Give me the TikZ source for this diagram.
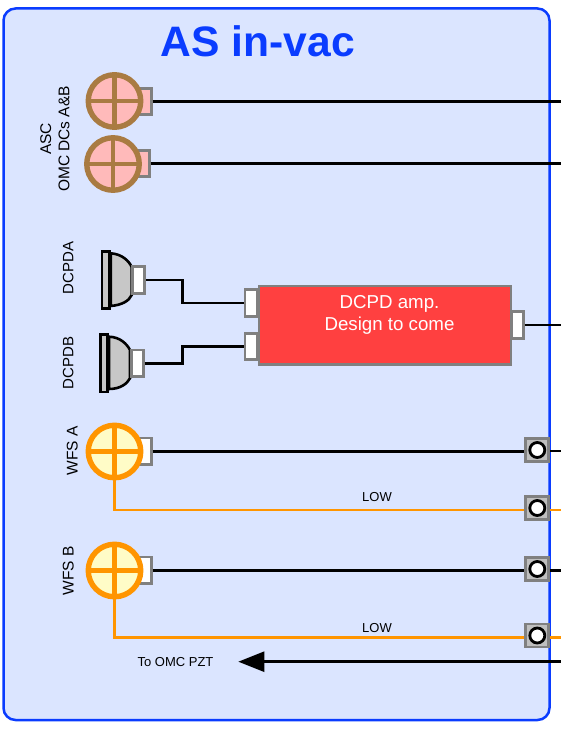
\documentclass[tikz,border=0pt]{standalone}
\usepackage{fontspec}
\setmainfont{Liberation Sans}
\usetikzlibrary{arrows.meta}
\definecolor{panelfill}{HTML}{DBE5FF}
\definecolor{panelblue}{HTML}{0A3CFF}
\definecolor{tabgray}{HTML}{808080}
\definecolor{wfsorange}{HTML}{FF9500}
\definecolor{ascbrown}{HTML}{A97B42}
\tikzset{
	wire/.style={draw=black,line width=2.6pt},
	lowwire/.style={draw=wfsorange,line width=2.6pt},
	tab/.style={draw=tabgray,line width=2.8pt,fill=white,inner sep=0pt,minimum width=#1,minimum height=26.5pt},
	tab/.default=12pt,
	port/.style={draw=tabgray,line width=2.8pt,fill=black!25,inner sep=0pt,minimum size=23pt},
	porthole/.style={circle,draw=black,line width=2.8pt,fill=white,inner sep=0pt,minimum size=15pt},
	asc/.style={circle,draw=ascbrown,line width=5.4pt,fill=red!27,inner sep=0pt,minimum size=52.5pt},
	wfs/.style={circle,draw=wfsorange,line width=5.4pt,fill=yellow!22,inner sep=0pt,minimum size=52.5pt},
	dcbase/.style={draw=black,line width=2.8pt,fill=black!22,inner sep=0pt,minimum width=7.5pt,minimum height=57.5pt},
	dome/.style={draw=black,line width=2.6pt,fill=black!22},
	sidelabel/.style={rotate=90,align=center,inner sep=0pt,font=\fontsize{15.5}{18.3}\selectfont},
	smalllabel/.style={inner sep=0pt,font=\fontsize{13}{15}\selectfont},
}
\begin{document}
\begin{tikzpicture}[x=1pt,y=-1pt]
	\useasboundingbox (0,0) rectangle (561,749);
	\draw[draw=panelblue,fill=panelfill,line width=2.5pt,rounded corners=12pt] (3.5,8.5) rectangle (549.5,720);
	\node(title) at (258,41) [inner sep=0pt,text=panelblue,font=\fontsize{42.6}{46}\selectfont\bfseries] {AS in-vac};

	% ASC diodes
	\node(ascAtab)[tab=21.5pt,fill=red!27] at (140.5,101.5) {};
	\node(ascBtab)[tab=21.5pt,fill=red!27] at (138.5,163.5) {};
	\node(ascA)[asc] at (114.5,101) {};
	\node(ascB)[asc] at (113,164) {};
	\draw[draw=ascbrown,line width=4.5pt] (ascA.north)--(ascA.south);
	\draw[draw=ascbrown,line width=4.5pt] (ascA.west)--(ascA.east);
	\draw[draw=ascbrown,line width=4.5pt] (ascB.north)--(ascB.south);
	\draw[draw=ascbrown,line width=4.5pt] (ascB.west)--(ascB.east);
	\node(asclabel)[sidelabel] at (55,139) {ASC\\OMC DCs A\&B};
	\coordinate(ascAout) at (561,101.5);
	\coordinate(ascBout) at (561,163.5);
	\draw[wire] (ascAtab.east)--(ascAout);
	\draw[wire] (ascBtab.east)--(ascBout);

	% DCPD diodes
	\draw[dome] (110.7,253.3) .. controls (122,254) and (129,261) .. (131.7,267) -- (131.7,295) .. controls (129,301) and (122,305) .. (110.7,306) -- cycle;
	\draw[dome] (109,336.7) .. controls (120,337) and (127,344) .. (130,350) -- (130,378.3) .. controls (127,384) and (120,389) .. (109,389) -- cycle;
	\node(dcpdA)[dcbase] at (105.7,280) {};
	\node(dcpdB)[dcbase] at (104,363.3) {};
	\node(dcpdAtab)[tab] at (138.7,280) {};
	\node(dcpdBtab)[tab] at (137.2,363.3) {};
	\node(dcpdAlabel)[sidelabel,font=\fontsize{15}{18}\selectfont] at (68.3,268) {DCPDA};
	\node(dcpdBlabel)[sidelabel,font=\fontsize{15}{18}\selectfont] at (68.3,363) {DCPDB};

	% amplifier
	\node(amp) at (385,325.3) [draw=tabgray,line width=2.8pt,fill=red!75!white,inner sep=0pt,minimum width=252pt,minimum height=78.5pt] {};
	\node(amptext) at (389.5,314.5) [inner sep=0pt,align=center,text=white,font=\fontsize{18.7}{22}\selectfont] {DCPD amp.\\Design to come};
	\node(ampinA)[tab] at (251,303) {};
	\node(ampinB)[tab] at (251,346.5) {};
	\node(ampout)[tab] at (517.3,325) {};
	\coordinate(bendA) at (182.7,291);
	\coordinate(bendB) at (182.7,355);
	\coordinate(ampend) at (561,325);
	\draw[wire] (dcpdAtab.east) -| (bendA) |- (ampinA.west);
	\draw[wire] (dcpdBtab.east) -| (bendB) |- (ampinB.west);
	\draw[wire] (ampout.east)--(ampend);

	% WFS diodes and feedthroughs
	\node(portA)[port] at (537.3,450) {};
	\node(portB)[port] at (537.3,508) {};
	\node(portC)[port] at (537.3,569) {};
	\node(portD)[port] at (537.3,635.5) {};
	\node(holeA)[porthole] at (portA) {};
	\node(holeB)[porthole] at (portB) {};
	\node(holeC)[porthole] at (portC) {};
	\node(holeD)[porthole] at (portD) {};
	\node(wfsAtab)[tab=21.5pt] at (140.5,451.3) {};
	\node(wfsBtab)[tab=21.5pt] at (140.5,570.3) {};
	\coordinate(portAout) at (561,451);
	\coordinate(portBout) at (561,510);
	\coordinate(portCout) at (561,570.3);
	\coordinate(portDout) at (561,637.3);
	\draw[wire] (wfsAtab.east)--([yshift=-1.3pt]portA.west);
	\draw[wire] (wfsBtab.east)--([yshift=-1.3pt]portC.west);
	\draw[wire] ([yshift=-1pt]portA.east)--(portAout);
	\draw[wire] ([yshift=-1.3pt]portC.east)--(portCout);
	\node(wfsA)[wfs] at (114.5,451.5) {};
	\node(wfsB)[wfs] at (114.5,570.5) {};
	\draw[lowwire] (wfsA.south) |- ([yshift=-2pt]portB.west);
	\draw[lowwire] (wfsB.south) |- ([yshift=-1.8pt]portD.west);
	\draw[lowwire] ([yshift=-2pt]portB.east)--(portBout);
	\draw[lowwire] ([yshift=-1.8pt]portD.east)--(portDout);
	\draw[draw=wfsorange,line width=4.5pt] (wfsA.north)--(wfsA.south);
	\draw[draw=wfsorange,line width=4.5pt] (wfsA.west)--(wfsA.east);
	\draw[draw=wfsorange,line width=4.5pt] (wfsB.north)--(wfsB.south);
	\draw[draw=wfsorange,line width=4.5pt] (wfsB.west)--(wfsB.east);
	\node(wfsAlabel)[sidelabel] at (72.3,451) {WFS A};
	\node(wfsBlabel)[sidelabel] at (68.3,571) {WFS B};
	\node(lowA)[smalllabel] at (377,497) {LOW};
	\node(lowB)[smalllabel] at (377,628) {LOW};

	% PZT drive
	\node(pzt)[smalllabel] at (175.5,662) {To OMC PZT};
	\coordinate(pztin) at (561,661.7);
	\coordinate(pzttip) at (238.3,661.7);
	\draw[wire,-{Triangle[length=26pt,width=20pt]}] (pztin)--(pzttip);
\end{tikzpicture}
\end{document}
